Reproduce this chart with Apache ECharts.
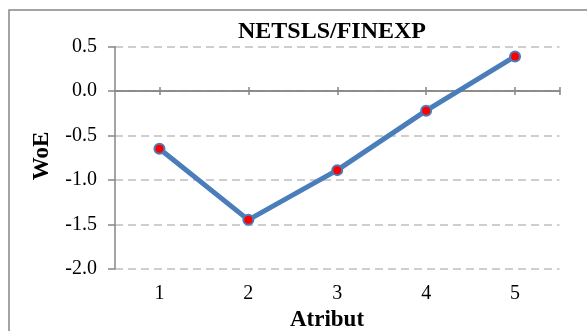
<!DOCTYPE html>
<html>
<head>
<meta charset="utf-8">
<script src="https://cdn.jsdelivr.net/npm/echarts@6/dist/echarts.min.js"></script>
<style>
html,body{margin:0;padding:0;background:#fff;}
#c{width:587px;height:331px;}
</style>
</head>
<body>
<div id="c"></div>
<script>
const categories = [1, 2, 3, 4, 5];
const woeValues = [-0.65, -1.45, -0.89, -0.22, 0.39];
const yTicks = [-2.0, -1.5, -1.0, -0.5, 0.0, 0.5];
const titleText = 'NETSLS/FINEXP';
const xName = 'Atribut';
const yName = 'WoE';

const FONT = '"Liberation Serif", "Times New Roman", serif';
const AXIS_COLOR = '#868686';
const LINE_COLOR = '#4A7EBB';

const chart = echarts.init(document.getElementById('c'), null, {renderer: 'canvas'});
const seriesData = categories.map((c, i) => [c, woeValues[i]]);
const xMin = categories[0] - 0.5, xMax = categories[categories.length - 1] + 0.5;
const yMin = yTicks[0], yMax = yTicks[yTicks.length - 1];

chart.setOption({
  animation: false,
  backgroundColor: '#fff',
  grid: {left: 115, right: 27.5, top: 46.7, bottom: 62.3, containLabel: false},
  xAxis: [
    {
      type: 'value', position: 'bottom', min: xMin, max: xMax,
      axisLine: {show: true, onZero: true, onZeroAxisIndex: 0, lineStyle: {color: AXIS_COLOR, width: 1.5}},
      axisTick: {show: true, inside: true, length: 4, customValues: categories.concat([xMax]), lineStyle: {color: AXIS_COLOR, width: 1.5}},
      axisLabel: {show: false},
      splitLine: {show: false}
    },
    {
      type: 'value', position: 'bottom', min: xMin, max: xMax,
      axisLine: {show: true, onZero: true, onZeroAxisIndex: 1, lineStyle: {color: AXIS_COLOR, width: 1.5}},
      axisTick: {show: true, inside: false, length: 4, customValues: categories.concat([xMax]), lineStyle: {color: AXIS_COLOR, width: 1.5}},
      axisLabel: {show: false},
      splitLine: {show: false}
    },
    {
      type: 'value', position: 'bottom', min: xMin, max: xMax,
      axisLine: {show: false, onZero: false},
      axisTick: {show: false},
      axisLabel: {show: true, customValues: categories, margin: 15, color: '#000', fontFamily: FONT, fontSize: 20,
        formatter: v => String(v)},
      splitLine: {show: false}
    }
  ],
  yAxis: [
    {
      type: 'value', position: 'left', min: yMin, max: yMax, interval: 0.5,
      axisLine: {show: true, onZero: false, lineStyle: {color: AXIS_COLOR, width: 1.5}},
      axisTick: {show: true, inside: false, length: 7, lineStyle: {color: AXIS_COLOR, width: 1.5}},
      axisLabel: {margin: 18, color: '#000', fontFamily: FONT, fontSize: 20, formatter: v => v.toFixed(1)},
      splitLine: {show: true, lineStyle: {color: '#BFBFBF', width: 1.5, type: [8, 5]}}
    },
    {
      type: 'value', position: 'left', min: yMin, max: yMax, interval: 0.5,
      axisLine: {show: false, onZero: false},
      axisTick: {show: false},
      axisLabel: {show: false},
      splitLine: {show: false}
    }
  ],
  title: {
    text: titleText, left: 327, top: 15, textAlign: 'center',
    textStyle: {fontFamily: FONT, fontSize: 24, fontWeight: 'bold', color: '#000'}
  },
  graphic: [
    {type: 'rect', silent: true, z: -1, shape: {x: 9, y: 10, width: 640, height: 400},
      style: {fill: 'none', stroke: AXIS_COLOR, lineWidth: 1.5}},
    {type: 'text', x: 327, y: 320, style: {text: xName, align: 'center', verticalAlign: 'middle',
      font: 'bold 23px ' + FONT, fill: '#000'}},
    {type: 'text', x: 42, y: 156, rotation: Math.PI / 2, style: {text: yName, align: 'center', verticalAlign: 'middle',
      font: 'bold 23px ' + FONT, fill: '#000'}}
  ],
  series: [{
    type: 'line', xAxisIndex: 0, yAxisIndex: 0, data: seriesData,
    lineStyle: {color: LINE_COLOR, width: 5},
    symbol: 'circle', symbolSize: 10,
    itemStyle: {color: '#FF0000', borderColor: LINE_COLOR, borderWidth: 2},
    z: 5
  }]
});
</script>
</body>
</html>
